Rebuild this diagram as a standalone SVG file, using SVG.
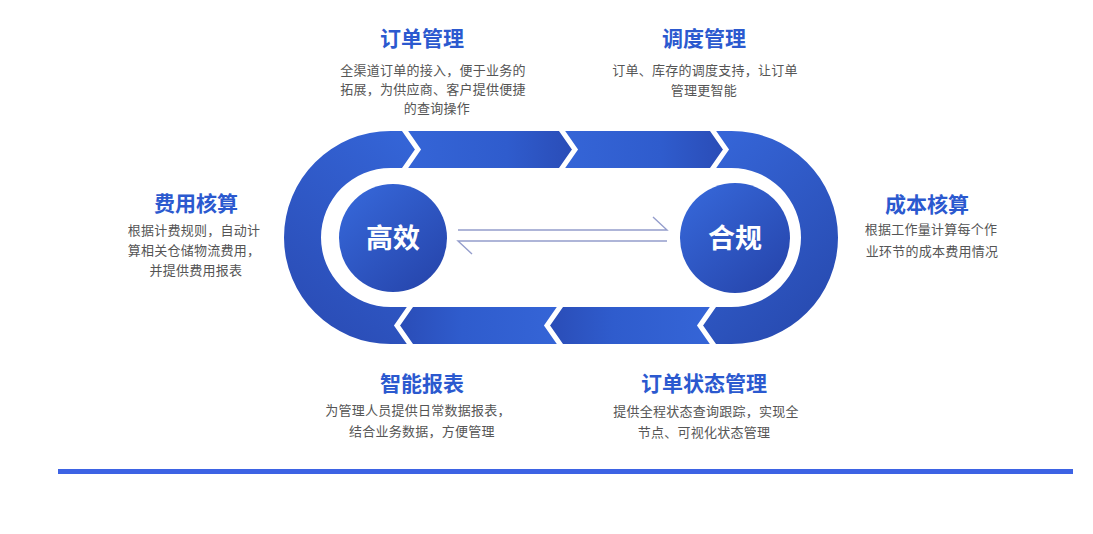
<svg xmlns="http://www.w3.org/2000/svg" width="1093" height="534" viewBox="0 0 1093 534">
<style>
.t{font-family:"Noto Sans CJK SC","Noto Sans",sans-serif;font-size:21px;font-weight:700;fill:#2b59cf;text-anchor:middle}
.b{font-family:"Noto Sans CJK SC","Noto Sans",sans-serif;font-size:13px;letter-spacing:0.25px;fill:#555;text-anchor:middle}
.c{font-family:"Noto Sans CJK SC","Noto Sans",sans-serif;font-size:27px;font-weight:700;fill:#fff;text-anchor:middle}
.gap{fill:none;stroke:#fff;stroke-width:5;stroke-linejoin:miter}
.ar{fill:none;stroke:#949dcc;stroke-width:1.4}
</style>
<defs>
<linearGradient id="gT" x1="0" y1="0" x2="1" y2="0">
<stop offset="0" stop-color="#3565d7"/><stop offset="0.6" stop-color="#2f5ccd"/><stop offset="1" stop-color="#2a4cb6"/>
</linearGradient>
<linearGradient id="gB" x1="1" y1="0" x2="0" y2="0">
<stop offset="0" stop-color="#3565d7"/><stop offset="0.6" stop-color="#2f5ccd"/><stop offset="1" stop-color="#2a4cb6"/>
</linearGradient>
<linearGradient id="gL" x1="0.8" y1="0" x2="0.3" y2="1">
<stop offset="0" stop-color="#3464d6"/><stop offset="1" stop-color="#2a4cb5"/>
</linearGradient>
<linearGradient id="gR" x1="0.2" y1="0" x2="0.8" y2="1">
<stop offset="0" stop-color="#3565d7"/><stop offset="1" stop-color="#2749ae"/>
</linearGradient>
<linearGradient id="gC" x1="0.15" y1="0.1" x2="0.85" y2="0.9">
<stop offset="0" stop-color="#3565d6"/><stop offset="1" stop-color="#2747ae"/>
</linearGradient>
</defs>
<rect width="1093" height="534" fill="#fff"/>

<g id="ring">
<path fill="url(#gL)" d="M405,131 L418,149.5 L405,168 L390.5,168 A69.5,69.5 0 0 0 390.5,307 L410,307 L397,325.5 L410,344 L390.5,344 A106.5,106.5 0 0 1 390.5,131 Z"/>
<path fill="url(#gT)" d="M405,131 L562,131 L575,149.5 L562,168 L405,168 L418,149.5 Z"/>
<path fill="url(#gT)" d="M562,131 L713,131 L726,149.5 L713,168 L562,168 L575,149.5 Z"/>
<path fill="url(#gR)" d="M713,131 L731.5,131 A106.5,106.5 0 0 1 731.5,344 L713,344 L700,325.5 L713,307 L731.5,307 A69.5,69.5 0 0 0 731.5,168 L713,168 L726,149.5 Z"/>
<path fill="url(#gB)" d="M713,307 L700,325.5 L713,344 L560,344 L547,325.5 L560,307 Z"/>
<path fill="url(#gB)" d="M560,307 L547,325.5 L560,344 L410,344 L397,325.5 L410,307 Z"/>
<polyline class="gap" points="403,128 418,149.5 403,171"/>
<polyline class="gap" points="560,128 575,149.5 560,171"/>
<polyline class="gap" points="711,128 726,149.5 711,171"/>
<polyline class="gap" points="412,304 397,325.5 412,347"/>
<polyline class="gap" points="562,304 547,325.5 562,347"/>
<polyline class="gap" points="715,304 700,325.5 715,347"/>
</g>

<g id="node-gaoxiao">
<circle cx="393" cy="238" r="54" fill="url(#gC)"/>
<text class="c" x="393" y="247.5">高效</text>
</g>
<g id="node-hegui">
<circle cx="735" cy="238" r="55" fill="url(#gC)"/>
<text class="c" x="735" y="247.5">合规</text>
</g>

<g id="connectors">
<polyline class="ar" points="458,230 667,230 653,217"/>
<polyline class="ar" points="667,241 458,241 472,254"/>
</g>

<g id="node-dingdan">
<text class="t" x="422" y="45.5">订单管理</text>
<text class="b" x="433" y="74.5">全渠道订单的接入，便于业务的</text>
<text class="b" x="433" y="93.5">拓展，为供应商、客户提供便捷</text>
<text class="b" x="437" y="112.5">的查询操作</text>
</g>
<g id="node-diaodu">
<text class="t" x="704" y="45.5">调度管理</text>
<text class="b" x="705" y="75">订单、库存的调度支持，让订单</text>
<text class="b" x="704" y="95">管理更智能</text>
</g>
<g id="node-feiyong">
<text class="t" x="196" y="210.5">费用核算</text>
<text class="b" x="194" y="235">根据计费规则，自动计</text>
<text class="b" x="194" y="254.5">算相关仓储物流费用，</text>
<text class="b" x="196" y="275">并提供费用报表</text>
</g>
<g id="node-chengben">
<text class="t" x="927" y="211.5">成本核算</text>
<text class="b" x="931" y="234">根据工作量计算每个作</text>
<text class="b" x="932" y="256">业环节的成本费用情况</text>
</g>
<g id="node-baobiao">
<text class="t" x="422" y="390.5">智能报表</text>
<text class="b" x="418" y="415">为管理人员提供日常数据报表，</text>
<text class="b" x="422" y="436">结合业务数据，方便管理</text>
</g>
<g id="node-zhuangtai">
<text class="t" x="704" y="390.5">订单状态管理</text>
<text class="b" x="706" y="415.5">提供全程状态查询跟踪，实现全</text>
<text class="b" x="704" y="437">节点、可视化状态管理</text>
</g>

<rect id="baseline" x="58" y="469" width="1015" height="5" fill="#3d63e4"/>
</svg>
